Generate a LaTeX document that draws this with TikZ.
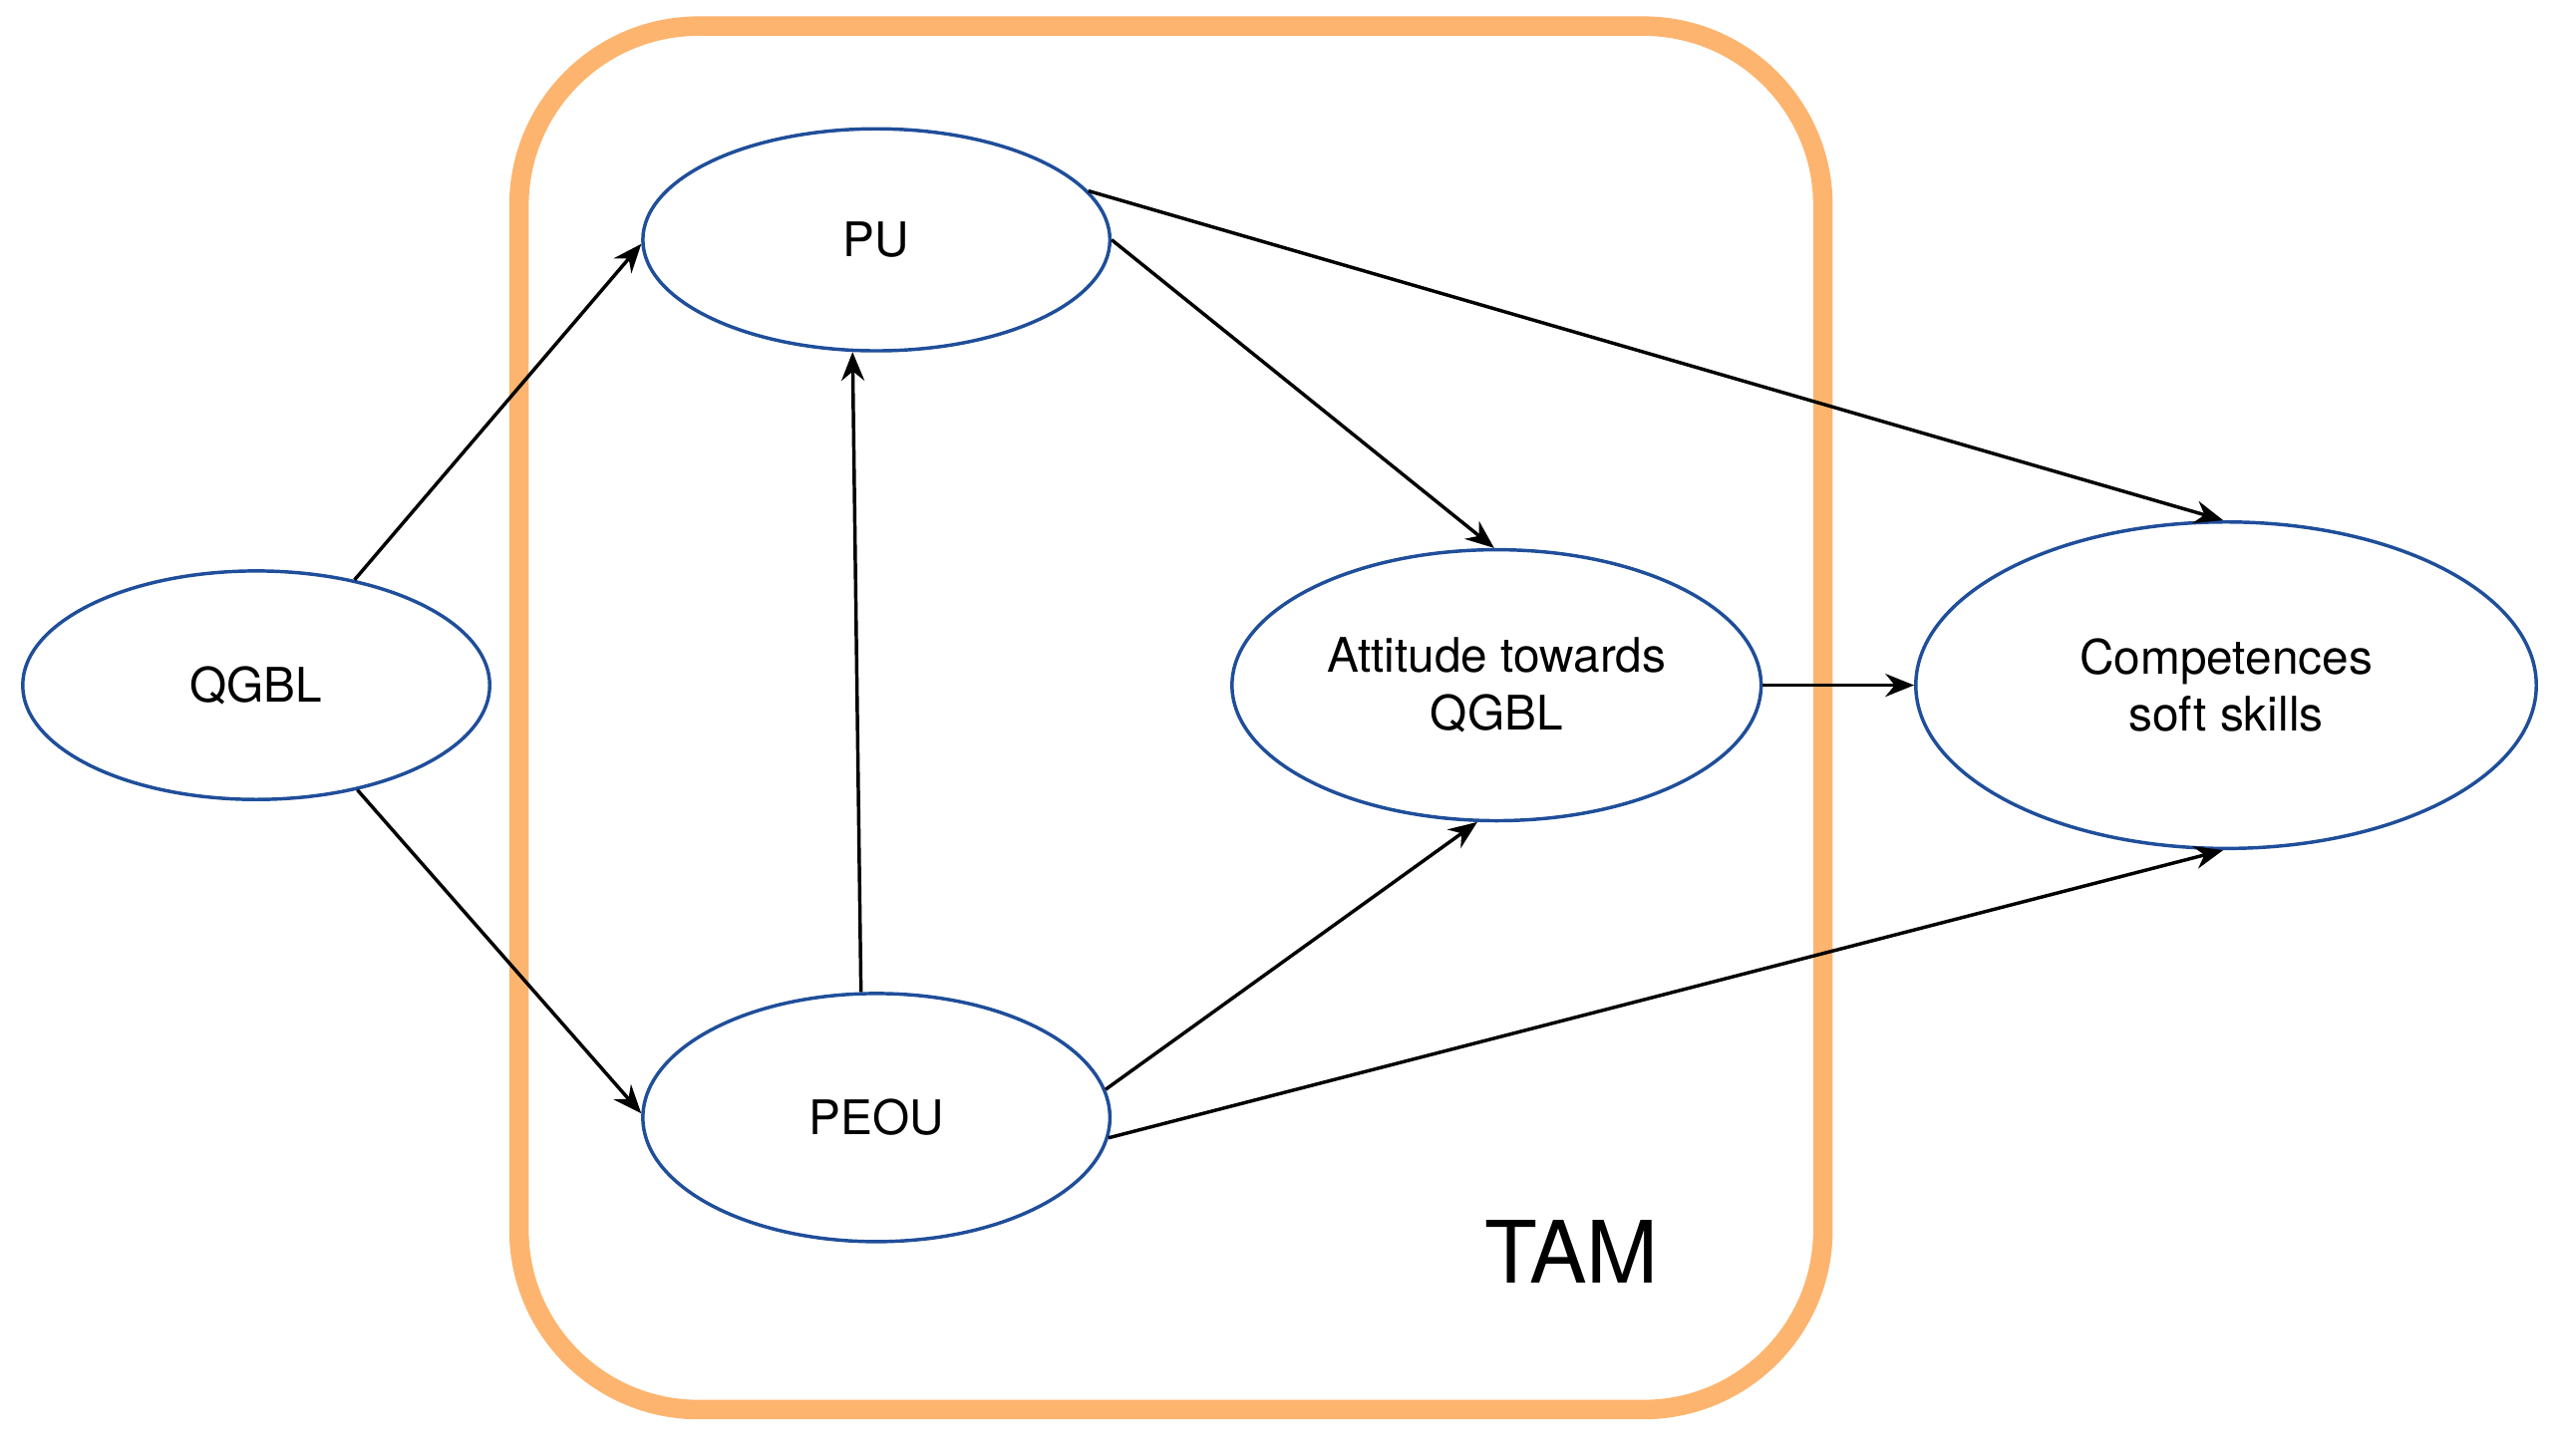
\documentclass[tikz,border=0pt]{standalone}
\usepackage{fontspec}
\setmainfont{TeX Gyre Heros}
\usetikzlibrary{shapes.geometric,arrows.meta}
\definecolor{tamorange}{HTML}{FDB46E}
\definecolor{elblue}{HTML}{1F4E9A}
\begin{document}
\begin{tikzpicture}[x=0.01cm,y=-0.01cm,
  el/.style={ellipse,draw=elblue,line width=0.6pt,inner sep=0pt,align=center,font=\fontsize{8.3}{10}\selectfont},
  arr/.style={-{Stealth[length=5pt,width=4pt]},line width=0.6pt}]
\useasboundingbox (0,0) rectangle (1568,892);
\draw[tamorange,line width=3.4pt,rounded corners=1.1cm] (318,16) rectangle (1117,864);
\node[el,minimum width=2.86cm,minimum height=1.40cm] (qgbl) at (157,420) {QGBL};
\node[el,minimum width=2.86cm,minimum height=1.36cm] (pu) at (537,147) {PU};
\node[el,minimum width=2.86cm,minimum height=1.52cm] (peou) at (537,685) {PEOU};
\node[el,minimum width=3.24cm,minimum height=1.66cm] (att) at (917,420) {Attitude towards\\QGBL};
\node[el,minimum width=3.80cm,minimum height=2.00cm] (comp) at (1364,420) {Competences\\soft skills};
\node[font=\fontsize{15}{18}\selectfont] (tam) at (963,767) {TAM};
\draw[arr] (qgbl.47) -- (pu.181);
\draw[arr] (qgbl.-46) -- (peou.179);
\draw[arr] (peou.97) -- (pu.258);
\draw[arr] (pu.0) -- (att.91);
\draw[arr] (pu.13.5) -- (comp.91);
\draw[arr] (peou.7) -- (att.262);
\draw[arr] (peou.-5) -- (comp.269);
\draw[arr] (att.east) -- (comp.west);
\end{tikzpicture}
\end{document}
